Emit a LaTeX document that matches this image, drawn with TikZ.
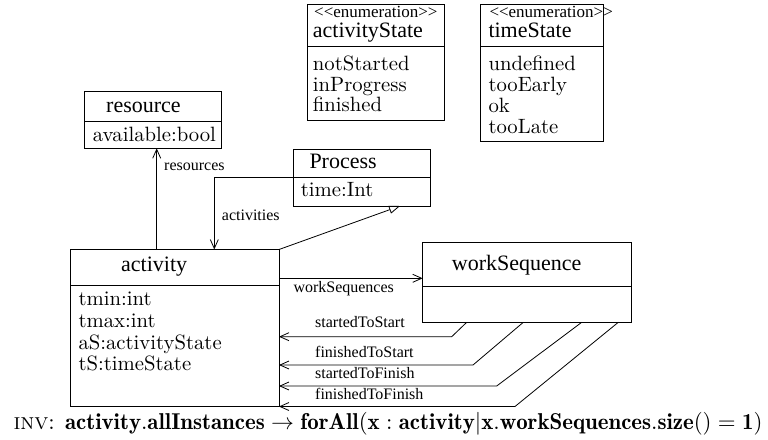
\documentclass[tikz,border=0pt]{standalone}
\usepackage{fontspec}
\newfontfamily\tms{Liberation Serif}
\newfontfamily\lmten[Extension=.otf]{lmroman10-regular}
\usetikzlibrary{arrows.meta}
\begin{document}
\begin{tikzpicture}[x=1pt,y=-1pt,
  box/.style={draw,line width=0.8pt,inner sep=0pt,outer sep=0pt,anchor=north west},
  ttl/.style={font=\tms\fontsize{22}{22}\selectfont,anchor=base west,inner sep=0pt},
  ster/.style={font=\tms\fontsize{17}{17}\selectfont,anchor=base west,inner sep=0pt},
  attr/.style={font=\lmten\fontsize{20.7}{21}\selectfont,anchor=base west,inner sep=0pt},
  lbl/.style={font=\tms\fontsize{16}{16}\selectfont,anchor=base west,inner sep=0pt},
  conn/.style={draw,line width=0.8pt},
  nav/.style={conn,-{Straight Barb[length=9pt,width=8pt,line width=0.8pt]}},
  gen/.style={conn,-{Triangle[open,length=11pt,width=8pt,line width=0.8pt]}}
]
\useasboundingbox (0,0) rectangle (768,439);

% enumeration activityState
\node[box,minimum width=137pt,minimum height=41.3pt] (asT) at (307.3,4.7) {};
\node[box,minimum width=137pt,minimum height=74pt] (asA) at (307.3,46) {};
\node[ster] (asS) at (314,17.3) {<<enumeration>>};
\node[ttl] (asN) at (312.7,37.3) {activityState};
\node[attr] (as1) at (312.7,70.7) {notStarted};
\node[attr] (as2) at (312.7,91.3) {inProgress};
\node[attr] (as3) at (312.7,111.7) {finished};

% enumeration timeState
\node[box,minimum width=122.6pt,minimum height=41.3pt] (tsT) at (480.7,4.7) {};
\node[box,minimum width=122.6pt,minimum height=95.7pt] (tsA) at (480.7,46) {};
\node[ster] (tsS) at (489.3,17.3) {<<enumeration>>};
\node[ttl] (tsN) at (488.3,37.3) {timeState};
\node[attr] (ts1) at (488.3,70.7) {undefined};
\node[attr] (ts2) at (488.3,91.3) {tooEarly};
\node[attr] (ts3) at (488.3,112) {ok};
\node[attr] (ts4) at (488.3,133) {tooLate};

% resource
\node[box,minimum width=137.7pt,minimum height=30pt] (reT) at (84,91.7) {};
\node[box,minimum width=137.7pt,minimum height=26.6pt] (reA) at (84,121.7) {};
\node[ttl] (reN) at (106,112.7) {resource};
\node[attr] (re1) at (92.7,141.7) {available:bool};

% Process
\node[box,minimum width=137.4pt,minimum height=28.7pt] (prT) at (293.3,149) {};
\node[box,minimum width=137.4pt,minimum height=28.3pt] (prA) at (293.3,177.7) {};
\node[ttl] (prN) at (309.3,168.3) {Process};
\node[attr] (pr1) at (300.7,196.7) {time:Int};

% activity
\node[box,minimum width=209pt,minimum height=36.2pt] (actT) at (70,249.5) {};
\node[box,minimum width=209pt,minimum height=120.8pt] (actA) at (70,285.7) {};
\node[ttl] (actN) at (121,271.7) {activity};
\node[attr] (ac1) at (78.3,305.7) {tmin:int};
\node[attr] (ac2) at (78.3,327.4) {tmax:int};
\node[attr] (ac3) at (78.3,349.1) {aS:activityState};
\node[attr] (ac4) at (78.3,370.8) {tS:timeState};

% workSequence
\node[box,minimum width=209pt,minimum height=43.7pt] (wsT) at (422.7,242.3) {};
\node[box,minimum width=209pt,minimum height=36.3pt] (wsA) at (422.7,286) {};
\node[ttl] (wsN) at (451.7,270) {workSequence};

% connectors
\draw[nav] ([xshift=86.7pt]actT.north west) coordinate (r0) -- (r0 |- reA.south);
\node[lbl] (lres) at (164,170.7) {resources};

\draw[nav] (prA.north west) -| ([xshift=144.3pt]actT.north west);
\node[lbl] (lact) at (221.7,220) {activities};

\draw[gen] (actT.north east) -- ([xshift=106.7pt]prA.south west);

\draw[nav] ([yshift=7.4pt]actT.south east) coordinate (w0) -- (w0 -| wsT.west);
\node[lbl] (lws) at (293.3,292.3) {workSequences};

\draw[nav] ([xshift=44pt]wsA.south west) -- ++(-15,14.4) coordinate (s1) -- (s1 -| actA.east);
\node[lbl] (l1) at (315,327.3) {startedToStart};

\draw[nav] ([xshift=100.6pt]wsA.south west) -- ++(-50.3,42.7) coordinate (s2) -- (s2 -| actA.east);
\node[lbl] (l2) at (315,357.3) {finishedToStart};

\draw[nav] ([xshift=159pt]wsA.south west) -- ++(-85,63.7) coordinate (s3) -- (s3 -| actA.east);
\node[lbl] (l3) at (315,378.3) {startedToFinish};

\draw[nav] ([xshift=195.6pt]wsA.south west) -- ++(-103.3,84.2) coordinate (s4) -- (actA.south east);
\node[lbl] (l4) at (315,399) {finishedToFinish};

% invariant
\node[anchor=base west,inner sep=0pt] (inv) at (13.3,429.3)
  {\resizebox{749pt}{!}{{\scshape inv}: $\mathbf{activity.allInstances}\rightarrow\mathbf{forAll}(\mathbf{x}:\mathbf{activity}|\mathbf{x.workSequences.size}()=\mathbf{1})$}};
\end{tikzpicture}
\end{document}
